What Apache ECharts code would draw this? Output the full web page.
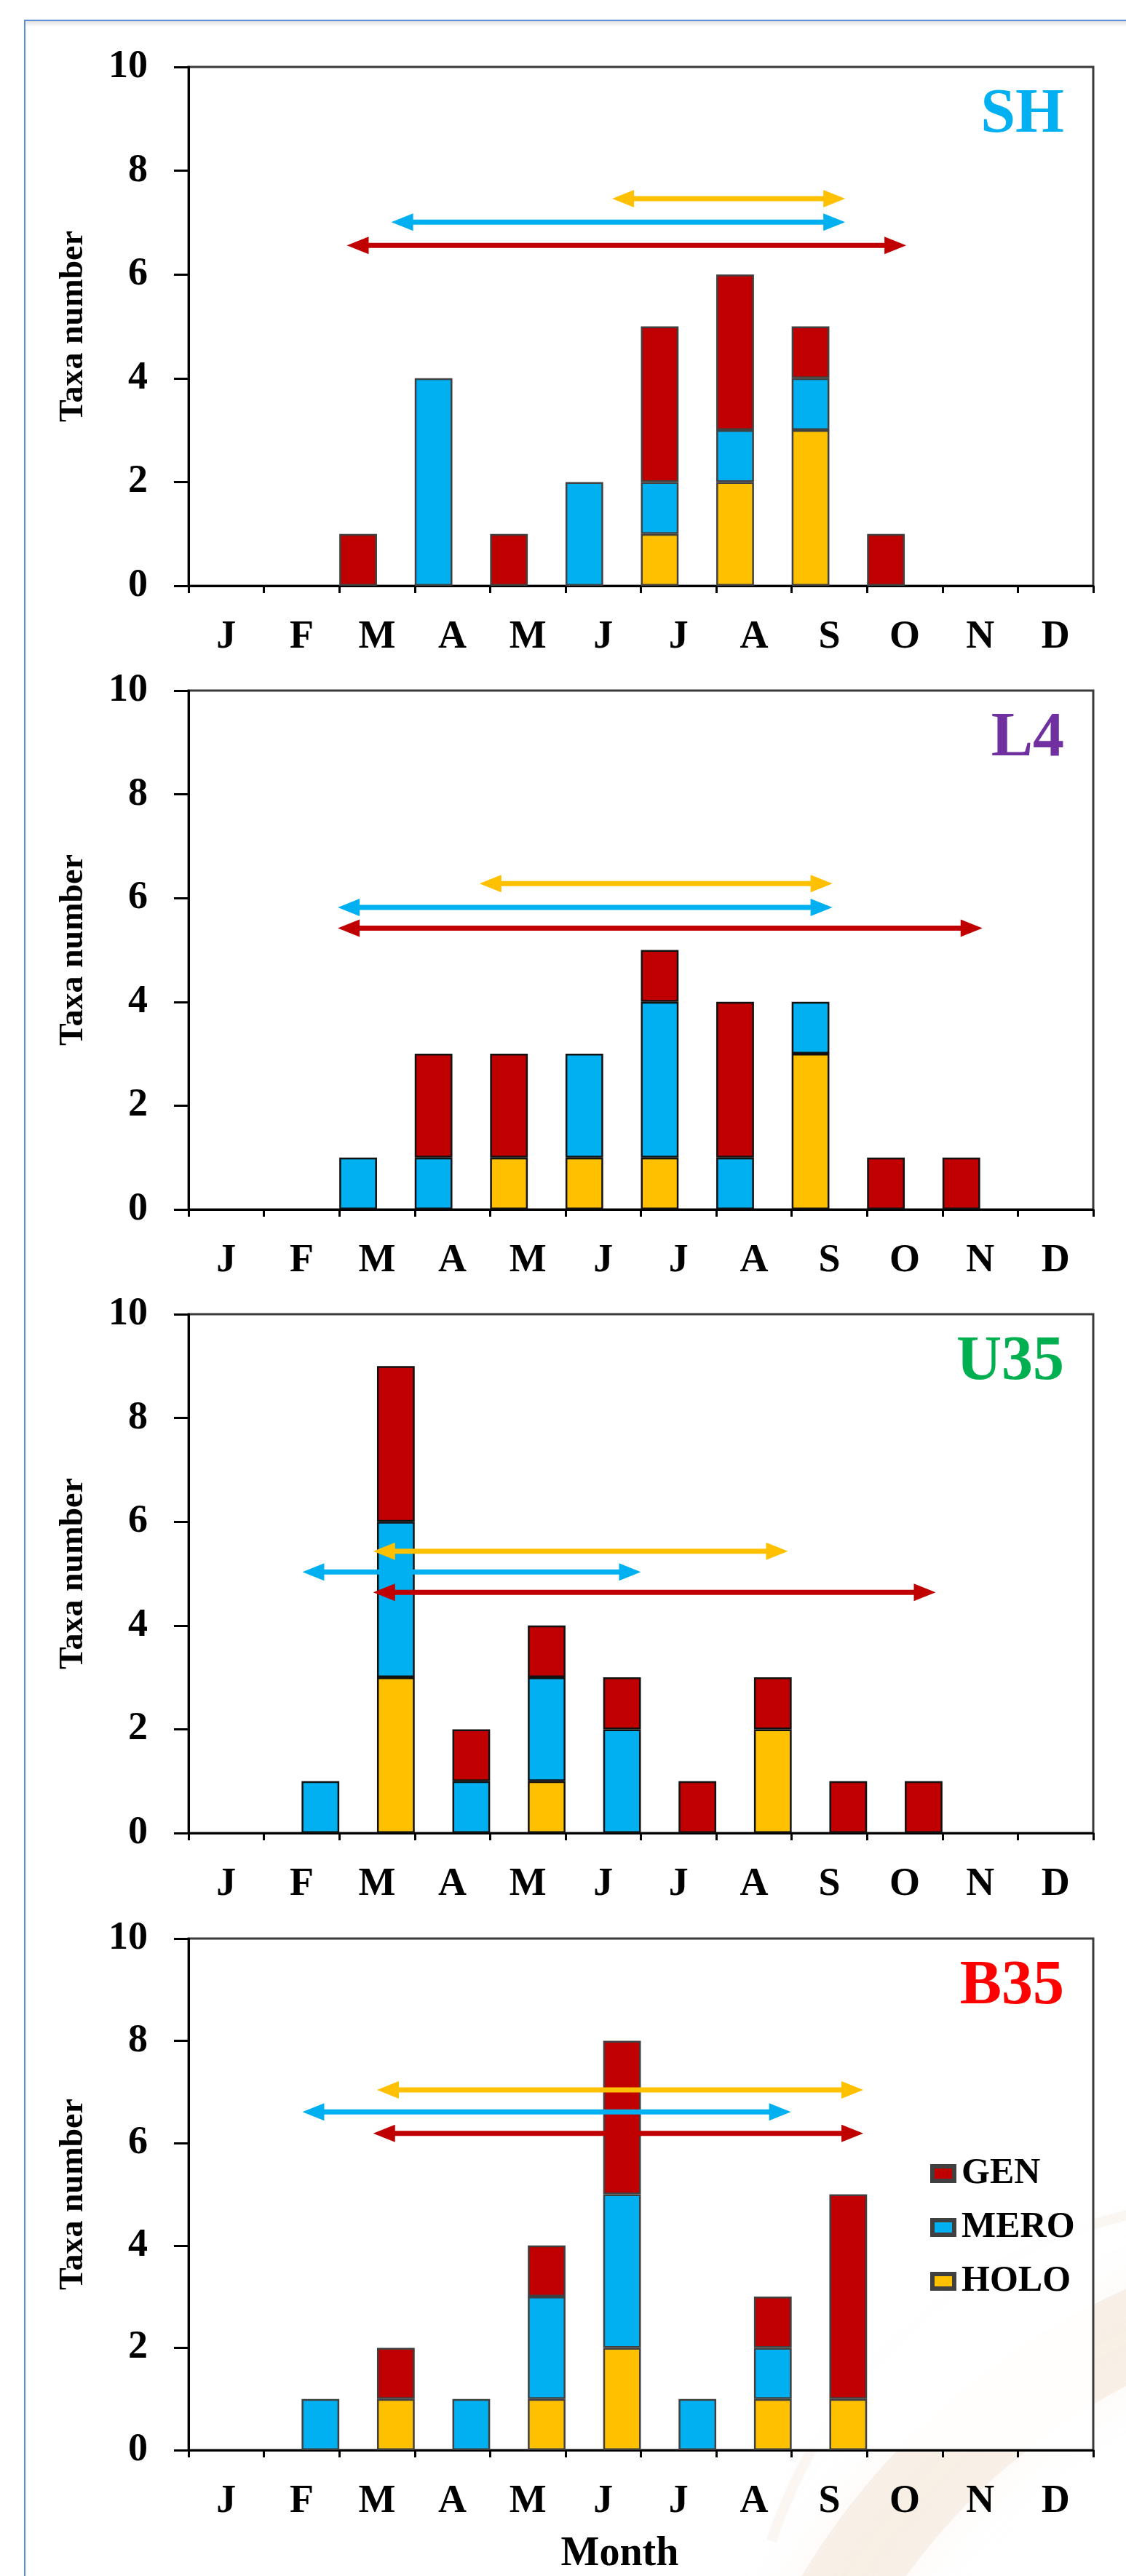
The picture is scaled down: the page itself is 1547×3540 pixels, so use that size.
<!DOCTYPE html>
<html>
<head>
<meta charset="utf-8">
<script src="https://cdn.jsdelivr.net/npm/echarts@6/dist/echarts.min.js"></script>
<style>
html,body{margin:0;padding:0;background:#ffffff;}
#chart{width:1547px;height:3540px;}
</style>
</head>
<body>
<div id="chart"></div>
<script>
// ---------- DATA ----------
const months = ['J','F','M','A','M','J','J','A','S','O','N','D'];
const groupNames = ['HOLO','MERO','GEN'];
const stationNames = ['SH','L4','U35','B35'];

// Taxa number per month (stacked: HOLO bottom, MERO middle, GEN top)
const SH_HOLO  = [0,0,0,0,0,0,1,2,3,0,0,0];
const SH_MERO  = [0,0,0,4,0,2,1,1,1,0,0,0];
const SH_GEN   = [0,0,1,0,1,0,3,3,1,1,0,0];

const L4_HOLO  = [0,0,0,0,1,1,1,0,3,0,0,0];
const L4_MERO  = [0,0,1,1,0,2,3,1,1,0,0,0];
const L4_GEN   = [0,0,0,2,2,0,1,3,0,1,1,0];

const U35_HOLO = [0,0,3,0,1,0,0,2,0,0,0,0];
const U35_MERO = [0,1,3,1,2,2,0,0,0,0,0,0];
const U35_GEN  = [0,0,3,1,1,1,1,1,1,1,0,0];

const B35_HOLO = [0,0,1,0,1,2,0,1,1,0,0,0];
const B35_MERO = [0,1,0,1,2,3,1,1,0,0,0,0];
const B35_GEN  = [0,0,1,0,1,3,0,1,4,0,0,0];

// Occurrence-period arrows: [start month position, end month position, level]
const SH_ARROW_HOLO  = [5.62, 8.71, 7.46];
const SH_ARROW_MERO  = [2.69, 8.71, 7.01];
const SH_ARROW_GEN   = [2.10, 9.52, 6.56];

const L4_ARROW_HOLO  = [3.86, 8.54, 6.28];
const L4_ARROW_MERO  = [1.98, 8.54, 5.82];
const L4_ARROW_GEN   = [1.98, 10.53, 5.42];

const U35_ARROW_HOLO = [2.45, 7.95, 5.43];
const U35_ARROW_MERO = [1.51, 6.00, 5.03];
const U35_ARROW_GEN  = [2.45, 9.91, 4.64];

const B35_ARROW_HOLO = [2.50, 8.95, 7.04];
const B35_ARROW_MERO = [1.51, 7.99, 6.61];
const B35_ARROW_GEN  = [2.45, 8.95, 6.19];

// ---------- STYLE / LAYOUT ----------
const FONT = "'Liberation Serif','Times New Roman',serif";
const COLORS = {HOLO:'#FFC000', MERO:'#00B0F0', GEN:'#C00000'};
const panels = [
  {name:'SH',  titleColor:'#00B0F0', series:{HOLO:SH_HOLO, MERO:SH_MERO, GEN:SH_GEN},
   arrows:{HOLO:SH_ARROW_HOLO, MERO:SH_ARROW_MERO, GEN:SH_ARROW_GEN}, side:'left', edge:'#404040'},
  {name:'L4',  titleColor:'#7030A0', series:{HOLO:L4_HOLO, MERO:L4_MERO, GEN:L4_GEN},
   arrows:{HOLO:L4_ARROW_HOLO, MERO:L4_ARROW_MERO, GEN:L4_ARROW_GEN}, side:'left', edge:'#111111'},
  {name:'U35', titleColor:'#00B050', series:{HOLO:U35_HOLO, MERO:U35_MERO, GEN:U35_GEN},
   arrows:{HOLO:U35_ARROW_HOLO, MERO:U35_ARROW_MERO, GEN:U35_ARROW_GEN}, side:'right', edge:'#111111'},
  {name:'B35', titleColor:'#FF0000', series:{HOLO:B35_HOLO, MERO:B35_MERO, GEN:B35_GEN},
   arrows:{HOLO:B35_ARROW_HOLO, MERO:B35_ARROW_MERO, GEN:B35_ARROW_GEN}, side:'right', edge:'#404040'}
];
const TOPS = [92, 949, 1806, 2664];
const PLOT_H = 713, PLOT_L = 259, PLOT_W = 1243;
const HEAD_L = 30, HEAD_HALF = 12, SHAFT_W = 7;

// double-headed arrow drawn from data [start, end, level] through the axes
function renderArrow(params, api) {
  const y = api.value(2);
  const p1 = api.coord([api.value(0), y]);
  const p2 = api.coord([api.value(1), y]);
  const color = api.visual('color');
  return {
    type:'group',
    children:[
      {type:'line', shape:{x1:p1[0] + HEAD_L - 2, y1:p1[1], x2:p2[0] - HEAD_L + 2, y2:p2[1]},
       style:{stroke:color, lineWidth:SHAFT_W, fill:null}},
      {type:'polygon', shape:{points:[[p1[0], p1[1]], [p1[0] + HEAD_L, p1[1] - HEAD_HALF], [p1[0] + HEAD_L, p1[1] + HEAD_HALF]]},
       style:{fill:color}},
      {type:'polygon', shape:{points:[[p2[0], p2[1]], [p2[0] - HEAD_L, p2[1] - HEAD_HALF], [p2[0] - HEAD_L, p2[1] + HEAD_HALF]]},
       style:{fill:color}}
    ]
  };
}

const chart = echarts.init(document.getElementById('chart'), null, {renderer:'canvas'});

const grids = [], xAxes = [], yAxes = [], series = [], titles = [];

panels.forEach((p, i) => {
  grids.push({left:PLOT_L, top:TOPS[i], width:PLOT_W, height:PLOT_H,
    show:true, borderColor:'#3a3a3a', borderWidth:3, backgroundColor:'rgba(255,255,255,0.9)'});

  const catAxis = {
    type:'category', gridIndex:i, data:months, boundaryGap:true,
    axisLine:{show:true, lineStyle:{color:'#000', width:3}},
    axisTick:{show:true, length:10, lineStyle:{color:'#000', width:3}},
    axisLabel:{interval:0, margin:44, color:'#000', fontFamily:FONT, fontWeight:'bold', fontSize:54},
    splitLine:{show:false}
  };
  if (i === panels.length - 1) {
    catAxis.name = 'Month';
    catAxis.nameLocation = 'middle';
    catAxis.nameGap = 116;
    catAxis.nameTextStyle = {color:'#000', fontFamily:FONT, fontWeight:'bold', fontSize:56, padding:[0,58,0,0]};
  }
  xAxes.push(catAxis);
  xAxes.push({type:'value', gridIndex:i, min:0, max:12, show:false, splitLine:{show:false}});

  yAxes.push({
    type:'value', gridIndex:i, min:0, max:10, interval:2,
    axisLine:{show:true, lineStyle:{color:'#000', width:3}},
    axisTick:{show:true, length:20, lineStyle:{color:'#000', width:3}},
    splitLine:{show:false},
    axisLabel:{margin:56, color:'#000', fontFamily:FONT, fontWeight:'bold', fontSize:54},
    name:'Taxa number', nameLocation:'middle', nameRotate:90, nameGap:135,
    nameTextStyle:{color:'#000', fontFamily:FONT, fontWeight:'bold', fontSize:46}
  });

  const dummy = {type:'bar', xAxisIndex:2*i, yAxisIndex:i, stack:'pad'+i, silent:true,
    barGap:'0%', barCategoryGap:'0%', data: months.map(() => null), itemStyle:{color:'transparent'}};
  if (p.side === 'right') series.push(dummy);
  groupNames.forEach(g => {
    series.push({
      type:'bar', name:g, xAxisIndex:2*i, yAxisIndex:i, stack:'taxa'+i, silent:true,
      barGap:'0%', barCategoryGap:'0%',
      itemStyle:{color:COLORS[g], borderColor:p.edge, borderWidth:2.5},
      emphasis:{disabled:true},
      data: p.series[g].map(v => v === 0 ? null : v)
    });
  });
  if (p.side === 'left') series.push(dummy);

  groupNames.forEach(g => {
    series.push({
      type:'custom', xAxisIndex:2*i+1, yAxisIndex:i, silent:true, z:5,
      itemStyle:{color:COLORS[g]},
      renderItem: renderArrow,
      encode:{x:[0,1], y:2},
      data:[p.arrows[g]]
    });
  });

  titles.push({text:p.name, right:80, top:TOPS[i] + 19,
    textStyle:{color:p.titleColor, fontFamily:FONT, fontWeight:'bold', fontSize:86}});
});

const option = {
  animation:false,
  backgroundColor:'#ffffff',
  title: titles,
  grid: grids,
  xAxis: xAxes,
  yAxis: yAxes,
  legend: {
    data:['GEN','MERO','HOLO'], orient:'vertical', left:1273, top:2956,
    icon:'rect', itemWidth:30, itemHeight:20, itemGap:22, selectedMode:false,
    itemStyle:{borderColor:'#404040', borderWidth:6},
    textStyle:{color:'#000', fontFamily:FONT, fontWeight:'bold', fontSize:50, lineHeight:52, padding:[0,0,0,5]}
  },
  graphic: [
    // decorative background swooshes (bottom right)
    {type:'arc', z:-10, silent:true, shape:{cx:1950, cy:4050, r:930, startAngle:Math.PI*1.05, endAngle:Math.PI*1.55},
     style:{fill:null, stroke:'rgba(230,200,170,0.22)', lineWidth:120, shadowBlur:80, shadowColor:'rgba(230,200,170,0.5)'}},
    {type:'arc', z:-10, silent:true, shape:{cx:1700, cy:3700, r:673, startAngle:Math.PI*1.1, endAngle:Math.PI*1.5},
     style:{fill:null, stroke:'rgba(220,190,160,0.12)', lineWidth:14, shadowBlur:20, shadowColor:'rgba(220,190,160,0.3)'}},
    // frame shadow and border
    {type:'rect', z:-5, silent:true, shape:{x:35, y:29, width:1520, height:8},
     style:{fill:new echarts.graphic.LinearGradient(0,0,0,1,[{offset:0,color:'rgba(0,0,0,0.12)'},{offset:1,color:'rgba(0,0,0,0)'}])}},
    {type:'rect', z:-4, silent:true, shape:{x:34, y:28, width:1600, height:3600},
     style:{fill:null, stroke:'#5B8FD6', lineWidth:2}}
  ],
  series: series
};
chart.setOption(option);
</script>
</body>
</html>
